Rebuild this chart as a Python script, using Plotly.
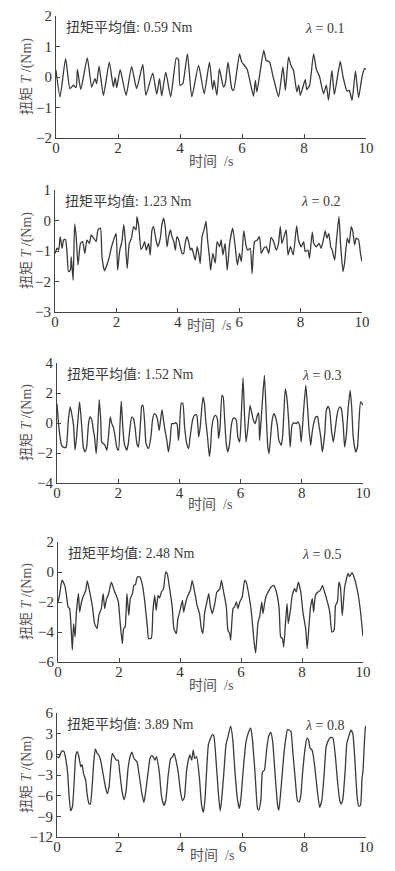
import plotly.graph_objects as go

# ---------------- data ----------------
lambdas = ["0.1", "0.2", "0.3", "0.5", "0.8"]
mean_torque = ["0.59", "1.23", "1.52", "2.48", "3.89"]

t1 = [0.00, 0.13, 0.31, 0.45, 0.56, 0.65, 0.69, 0.80, 1.01, 1.15, 1.26, 1.31, 1.39, 1.53, 1.72, 1.85, 1.91, 1.96,
      2.07, 2.26, 2.44, 2.60, 2.80, 2.90, 3.12, 3.25, 3.34, 3.41, 3.54, 3.70, 3.88, 3.95, 4.00, 4.09, 4.24, 4.38,
      4.60, 4.78, 4.95, 5.05, 5.10, 5.19, 5.27, 5.40, 5.46, 5.55, 5.67, 5.73, 5.92, 5.99, 6.16, 6.37, 6.43, 6.48,
      6.70, 6.78, 6.89, 7.00, 7.04, 7.18, 7.32, 7.40, 7.50, 7.58, 7.66, 7.77, 7.83, 7.88, 8.04, 8.09, 8.18, 8.31,
      8.40, 8.50, 8.63, 8.72, 8.79, 8.90, 8.98, 9.17, 9.26, 9.39, 9.46, 9.55, 9.66, 9.76, 9.87, 9.95, 10.0]
v1 = [0.22, -0.65, 0.60, -0.38, -0.27, -0.35, 0.25, -0.41, 0.63, -0.33, -0.05, -0.22, 0.35, -0.60, 0.49, -0.33, -0.02, -0.35,
      0.24, -0.60, 0.35, -0.38, 0.41, -0.60, 0.13, -0.57, -0.05, -0.62, 0.16, -0.65, 0.63, 0.57, -0.27, -0.22, 0.76, -0.65,
      0.38, -0.55, 0.49, -0.41, -0.11, -0.60, 0.27, -0.33, -0.22, 0.49, -0.38, -0.44, 0.76, 0.49, 0.27, -0.63, -0.11, -0.49,
      0.87, 0.55, 0.49, 0.02, -0.13, -0.65, 0.33, -0.44, 0.65, 0.38, 0.22, -0.49, -0.27, -0.60, -0.09, -0.41, -0.27, 0.76,
      0.24, 0.02, -0.55, -0.27, -0.76, 0.22, -0.57, 0.51, 0.00, -0.46, -0.44, -0.76, 0.19, -0.68, 0.00, 0.27, 0.27]

t2 = [0.00, 0.07, 0.12, 0.17, 0.23, 0.28, 0.34, 0.39, 0.44, 0.50, 0.53, 0.59, 0.64, 0.69, 0.75, 0.83, 0.90, 0.97,
      1.04, 1.12, 1.18, 1.26, 1.34, 1.40, 1.48, 1.53, 1.61, 1.69, 1.77, 1.83, 1.91, 1.99, 2.04, 2.11, 2.18, 2.24,
      2.29, 2.35, 2.42, 2.49, 2.56, 2.64, 2.67, 2.73, 2.80, 2.86, 2.92, 2.97, 3.05, 3.10, 3.16, 3.21, 3.29, 3.35,
      3.43, 3.48, 3.54, 3.59, 3.65, 3.70, 3.76, 3.81, 3.87, 3.92, 3.97, 4.03, 4.08, 4.14, 4.19, 4.24, 4.30, 4.35,
      4.41, 4.46, 4.52, 4.57, 4.63, 4.68, 4.73, 4.79, 4.87, 4.92, 4.97, 5.03, 5.07, 5.14, 5.22, 5.28, 5.36, 5.41,
      5.47, 5.54, 5.61, 5.69, 5.79, 5.87, 5.94, 6.01, 6.07, 6.15, 6.23, 6.28, 6.36, 6.42, 6.50, 6.59, 6.66, 6.72,
      6.80, 6.88, 6.96, 7.04, 7.12, 7.21, 7.28, 7.34, 7.39, 7.46, 7.53, 7.59, 7.67, 7.76, 7.87, 7.93, 8.02, 8.10,
      8.15, 8.24, 8.29, 8.38, 8.43, 8.51, 8.60, 8.67, 8.73, 8.80, 8.86, 8.92, 8.98, 9.03, 9.11, 9.16, 9.25, 9.30,
      9.38, 9.43, 9.52, 9.58, 9.65, 9.70, 9.76, 9.81, 9.89, 9.95, 10.0]
v2 = [-1.08, -0.91, -0.97, -0.53, -0.91, -0.64, -0.62, -1.02, -1.68, -1.63, -1.19, -1.96, -0.11, -0.53, -1.46, -0.75, -0.69, -1.08,
      -0.64, -0.75, -0.47, -0.58, -0.69, -0.31, -0.25, -1.19, -1.65, -1.46, -1.19, -0.91, -0.64, -0.42, -1.63, -0.97, -0.69, -0.14,
      -0.64, -1.57, -0.75, -0.58, -0.20, -0.31, 0.13, -0.20, -0.95, -0.86, -0.69, -0.97, -0.75, -1.13, -0.31, -0.20, -0.64, -0.86,
      -0.58, -0.14, 0.08, -0.20, -0.86, -0.53, -0.31, -0.53, -0.69, -0.97, -0.53, -0.64, -0.86, -1.08, -1.08, -0.75, -0.53, -0.69,
      -0.97, -0.91, -1.13, -1.30, -0.86, -1.08, -1.41, -0.53, -0.25, -0.03, -0.64, -1.19, -1.63, -1.08, -1.40, -0.69, -0.86, -0.64,
      -1.13, -0.75, -1.63, -0.75, -0.25, -0.86, -1.46, -1.08, -1.35, -0.33, -0.86, -0.97, -0.91, -1.74, -0.69, -0.64, -0.53, -1.08,
      -0.91, -0.86, -1.08, -0.55, -0.69, -0.97, -0.75, -0.20, -0.75, -0.53, -0.31, -1.13, -0.86, -1.13, -0.18, -0.64, -0.86, -0.69,
      -1.02, -0.97, -1.24, -0.38, -0.75, -0.86, -0.75, -0.91, -0.69, -0.34, -0.58, -0.42, -0.86, -0.97, -1.30, -0.75, 0.13, -0.75,
      -1.68, -1.41, -0.58, -0.75, -0.20, -0.36, -0.80, -0.58, -0.64, -1.08, -1.35]

t3 = [0.00, 0.05, 0.10, 0.15, 0.24, 0.30, 0.37, 0.43, 0.48, 0.54, 0.59, 0.64, 0.70, 0.74, 0.81, 0.86, 0.92, 0.97,
      1.03, 1.08, 1.14, 1.19, 1.22, 1.28, 1.32, 1.38, 1.43, 1.46, 1.52, 1.57, 1.63, 1.68, 1.74, 1.79, 1.84, 1.90,
      1.95, 2.01, 2.06, 2.10, 2.15, 2.20, 2.28, 2.33, 2.39, 2.44, 2.50, 2.55, 2.61, 2.66, 2.72, 2.77, 2.81, 2.86,
      2.91, 2.99, 3.07, 3.12, 3.18, 3.24, 3.29, 3.34, 3.37, 3.43, 3.48, 3.53, 3.59, 3.64, 3.70, 3.75, 3.81, 3.86,
      3.92, 3.97, 4.00, 4.06, 4.11, 4.17, 4.24, 4.30, 4.35, 4.41, 4.46, 4.52, 4.57, 4.63, 4.68, 4.77, 4.82, 4.86,
      4.92, 4.98, 5.02, 5.06, 5.13, 5.18, 5.24, 5.28, 5.33, 5.39, 5.43, 5.48, 5.53, 5.58, 5.64, 5.69, 5.75, 5.80,
      5.86, 5.91, 5.97, 6.02, 6.08, 6.13, 6.18, 6.24, 6.31, 6.37, 6.42, 6.48, 6.53, 6.59, 6.62, 6.67, 6.73, 6.78,
      6.84, 6.89, 6.93, 6.98, 7.03, 7.09, 7.14, 7.20, 7.25, 7.33, 7.38, 7.46, 7.51, 7.57, 7.62, 7.68, 7.74, 7.82,
      7.87, 7.93, 7.98, 8.06, 8.13, 8.18, 8.23, 8.29, 8.34, 8.40, 8.45, 8.51, 8.56, 8.62, 8.67, 8.75, 8.80, 8.86,
      8.91, 8.97, 9.03, 9.10, 9.16, 9.24, 9.29, 9.35, 9.40, 9.46, 9.51, 9.58, 9.63, 9.68, 9.76, 9.82, 9.87, 9.92,
      9.97, 10.0]
v3 = [1.29, -0.04, -0.93, -1.49, -1.64, -1.60, 0.18, 1.07, 0.62, -0.16, -1.82, -0.93, 0.62, 1.40, -0.27, -1.60, -1.93, -1.60,
      -0.04, 0.40, 0.18, -0.49, -0.82, -2.04, -0.93, 1.56, 0.18, -1.27, -1.38, -1.49, -1.82, -0.93, 0.40, -0.04, -0.27, -0.93,
      -1.60, -1.82, -0.04, 1.44, -0.27, -1.38, -1.82, -1.38, -0.27, 0.40, 0.29, -0.27, -1.38, -1.60, -0.27, 1.11, 1.18, 0.18,
      -1.38, -1.71, -0.93, 0.18, 0.62, 0.51, 0.18, -0.49, -0.04, 0.89, 0.18, -0.49, -1.16, -1.93, -1.16, -0.04, -0.04, 0.00,
      -0.04, -1.16, -0.49, 1.29, 1.33, -0.27, -1.38, -1.71, -0.93, -0.04, 0.40, 0.56, 0.51, -0.93, -0.27, 1.73, 1.29, 0.18,
      -0.93, -2.24, -1.60, -0.27, 0.40, 0.51, 0.29, -1.04, -0.27, 1.84, 1.73, 0.18, -1.38, -1.93, -1.38, -0.27, 0.29, 0.33,
      0.18, -0.93, -1.27, 0.40, 3.02, 0.40, -1.27, -0.27, 1.18, 0.62, 0.18, -0.04, 0.40, 0.67, -1.16, 0.18, 1.96, 3.18,
      0.40, -1.60, -2.04, -0.93, 0.18, 0.62, 0.40, -0.16, -1.16, -1.49, -0.71, 2.29, 1.73, 0.18, -1.60, -0.16, 0.02, -0.04,
      0.07, -0.16, -1.27, 0.84, 2.51, 1.29, -0.27, -1.49, -0.60, 0.07, 0.40, 0.44, -0.16, -0.93, -1.93, -0.71, 0.84, 1.11,
      0.84, -0.49, -1.27, -0.27, 0.62, 1.07, 0.96, -0.04, -1.60, -0.71, 0.84, 2.18, 1.07, -0.93, -1.93, -1.60, 0.18, 1.40,
      1.29, 1.20]

t4 = [0.00, 0.05, 0.13, 0.22, 0.27, 0.33, 0.38, 0.44, 0.47, 0.51, 0.56, 0.60, 0.67, 0.71, 0.77, 0.82, 0.91, 0.96,
      1.04, 1.13, 1.20, 1.28, 1.34, 1.42, 1.48, 1.53, 1.58, 1.66, 1.75, 1.84, 1.91, 1.98, 2.04, 2.11, 2.15, 2.20,
      2.26, 2.32, 2.37, 2.44, 2.49, 2.54, 2.60, 2.68, 2.77, 2.84, 2.93, 2.97, 3.06, 3.11, 3.17, 3.22, 3.28, 3.33,
      3.39, 3.46, 3.53, 3.58, 3.66, 3.75, 3.80, 3.88, 3.93, 3.99, 4.08, 4.12, 4.19, 4.26, 4.34, 4.40, 4.48, 4.56,
      4.64, 4.70, 4.75, 4.81, 4.86, 4.94, 4.99, 5.06, 5.14, 5.21, 5.30, 5.36, 5.43, 5.52, 5.57, 5.63, 5.66, 5.74,
      5.79, 5.85, 5.90, 5.96, 6.04, 6.12, 6.17, 6.26, 6.34, 6.43, 6.48, 6.56, 6.61, 6.68, 6.72, 6.78, 6.83, 6.92,
      6.99, 7.07, 7.16, 7.25, 7.30, 7.36, 7.40, 7.46, 7.51, 7.55, 7.62, 7.68, 7.76, 7.81, 7.88, 7.96, 8.03, 8.12,
      8.17, 8.23, 8.28, 8.34, 8.38, 8.44, 8.52, 8.60, 8.67, 8.74, 8.82, 8.91, 8.98, 9.05, 9.10, 9.16, 9.21, 9.26,
      9.32, 9.40, 9.51, 9.56, 9.64, 9.73, 9.84, 9.91, 10.0]
v4 = [-2.00, -1.56, -0.56, -0.89, -1.44, -2.33, -2.44, -4.11, -5.20, -3.44, -4.33, -2.78, -1.44, -2.67, -2.00, -1.67, -1.22, -0.60,
      -1.33, -2.33, -3.44, -3.78, -2.89, -2.44, -1.44, -2.44, -1.89, -1.44, -0.67, -1.22, -1.56, -2.00, -3.44, -4.78, -3.78, -3.67,
      -1.44, -2.89, -1.78, -1.44, -0.89, -0.84, -0.33, -0.33, -0.89, -1.89, -3.67, -4.44, -4.40, -2.67, -1.56, -2.56, -1.56, -1.73,
      -1.33, -1.11, 0.00, -0.11, -1.11, -2.44, -3.78, -4.11, -3.11, -2.67, -1.89, -2.67, -2.00, -1.56, -1.22, -0.56, -1.33, -2.22,
      -2.78, -3.78, -4.11, -2.67, -2.22, -1.44, -2.22, -2.78, -2.11, -1.33, -1.16, -0.56, -1.33, -2.33, -3.89, -4.11, -4.55, -2.44,
      -2.33, -2.00, -2.44, -2.00, -1.67, -0.56, -0.67, -1.56, -2.67, -4.67, -5.40, -3.33, -3.00, -2.00, -2.78, -2.00, -1.56, -1.22,
      -1.00, -0.89, -1.33, -2.44, -4.33, -4.44, -5.00, -3.33, -2.11, -3.44, -2.56, -1.56, -1.11, -1.33, -0.67, -1.33, -2.67, -3.78,
      -5.11, -3.56, -2.33, -1.78, -2.67, -1.56, -1.33, -1.22, -0.89, -1.33, -1.89, -2.67, -4.00, -3.89, -2.22, -2.00, -0.67, -1.00,
      -2.90, -1.00, -0.10, -0.30, -0.05, -0.50, -1.50, -2.50, -4.30]

t5 = [0.00, 0.06, 0.12, 0.17, 0.23, 0.28, 0.34, 0.39, 0.44, 0.50, 0.55, 0.61, 0.66, 0.71, 0.77, 0.81, 0.86, 0.93,
      0.98, 1.04, 1.08, 1.14, 1.19, 1.24, 1.30, 1.35, 1.41, 1.49, 1.58, 1.63, 1.69, 1.74, 1.79, 1.85, 1.92, 1.98,
      2.03, 2.11, 2.17, 2.23, 2.30, 2.38, 2.43, 2.49, 2.54, 2.59, 2.66, 2.74, 2.81, 2.86, 2.95, 3.01, 3.06, 3.11,
      3.17, 3.22, 3.31, 3.38, 3.46, 3.52, 3.60, 3.68, 3.74, 3.79, 3.85, 3.92, 4.00, 4.06, 4.12, 4.19, 4.25, 4.30,
      4.36, 4.41, 4.46, 4.52, 4.61, 4.68, 4.74, 4.79, 4.84, 4.90, 4.97, 5.04, 5.08, 5.15, 5.22, 5.28, 5.33, 5.41,
      5.47, 5.55, 5.62, 5.69, 5.76, 5.84, 5.90, 5.95, 6.03, 6.11, 6.19, 6.27, 6.32, 6.41, 6.49, 6.53, 6.60, 6.65,
      6.71, 6.79, 6.85, 6.92, 6.98, 7.06, 7.14, 7.18, 7.24, 7.33, 7.39, 7.46, 7.52, 7.57, 7.63, 7.71, 7.78, 7.84,
      7.89, 7.95, 8.03, 8.09, 8.14, 8.19, 8.25, 8.30, 8.36, 8.43, 8.50, 8.57, 8.65, 8.71, 8.79, 8.86, 8.93, 9.01,
      9.08, 9.15, 9.20, 9.25, 9.33, 9.38, 9.46, 9.51, 9.57, 9.63, 9.71, 9.76, 9.82, 9.87, 9.90, 9.95, 9.98, 10.0]
v5 = [-0.30, -0.50, 0.15, 0.50, 0.40, -0.60, -2.50, -5.90, -8.20, -7.60, -4.40, -0.10, 0.40, -0.35, -1.80, -1.50, -2.80, -3.80,
      -6.00, -7.20, -7.20, -4.50, -1.10, 0.80, 0.15, -0.10, -0.85, -2.80, -5.00, -5.70, -4.50, -1.60, 0.15, -0.35, -0.85, -0.85,
      -2.60, -5.50, -6.60, -5.50, -2.05, -0.10, 0.30, -0.60, -0.85, -1.10, -3.00, -5.50, -7.00, -5.75, -2.55, -0.60, -0.20, -0.35,
      -0.85, -0.35, -2.55, -6.00, -7.40, -6.70, -3.00, -0.60, -0.35, 0.15, -0.85, -2.55, -5.50, -6.70, -6.30, -2.55, -0.85, -0.10,
      -0.85, 0.60, -0.60, -0.35, -3.50, -7.40, -8.40, -6.50, -2.55, 1.40, 2.35, 2.90, 2.60, -1.10, -5.50, -8.20, -6.50, -2.05,
      1.40, 2.85, 4.10, 2.10, -2.55, -6.50, -7.85, -6.50, -2.05, 1.60, 3.10, 3.80, 2.35, -2.80, -7.85, -8.10, -6.50, -2.55,
      -2.30, 0.90, 2.60, 3.20, 1.85, -3.05, -7.40, -8.10, -5.50, -0.60, 1.85, 3.60, 3.50, 3.35, 0.40, -3.55, -6.70, -6.90,
      -6.00, -2.55, 0.90, 2.35, 2.10, 0.90, 0.65, -0.35, -2.55, -5.50, -7.70, -6.70, -2.55, 1.10, 2.10, 2.45, 2.35, -0.35,
      -4.00, -6.70, -7.20, -6.50, -2.05, 1.60, 2.85, 3.50, 3.10, -0.10, -6.00, -7.50, -7.40, -3.55, -2.55, 1.85, 4.10, 3.60]

x_ticks = [0, 2, 4, 6, 8, 10]
y_ranges = [[-2, 2], [-3, 1], [-4, 4], [-6, 2], [-12, 6]]
y_dticks = [1, 1, 2, 2, 3]

series_t = [t1, t2, t3, t4, t5]
series_v = [v1, v2, v3, v4, v5]

# ---------------- layout geometry (page pixels) ----------------
OFF = 8                      # default body margin of the html page
W, H = 395 - 2 * OFF, 871 - 2 * OFF
panels_px = [  # left, right, top, bottom of each plot area (page px)
    (56, 366, 16, 138),
    (55, 362, 190, 312),
    (57, 363, 363, 483),
    (58, 363, 542, 662),
    (57, 366, 713, 837),
]
xtitle_px = [162, 325, 505, 685, 855]


def px_x(p):
    return (p - OFF) / W


def px_y(p):
    return 1 - (p - OFF) / H


serif = "Liberation Serif, Noto Sans CJK SC, serif"
txt_col = "#333333"

fig = go.Figure()
annotations = []
layout_axes = {}
for i in range(5):
    l, r, tp, bt = panels_px[i]
    xs = "" if i == 0 else str(i + 1)
    fig.add_trace(go.Scatter(
        x=series_t[i], y=series_v[i], mode="lines",
        line=dict(color="#3a3a3a", width=1.3, shape="spline", smoothing=0.5),
        xaxis="x" + xs, yaxis="y" + xs, showlegend=False, hoverinfo="skip"))
    common = dict(showline=True, linecolor="#444444", linewidth=1, mirror=False,
                  ticks="inside", ticklen=4, tickcolor="#444444", tickwidth=1,
                  showgrid=False, zeroline=False, automargin=False,
                  tickfont=dict(family=serif, size=15, color=txt_col))
    layout_axes["xaxis" + xs] = dict(
        domain=[px_x(l), px_x(r)], range=[0, 10], tickvals=x_ticks,
        anchor="y" + xs, ticklabelstandoff=-4, **common)
    layout_axes["yaxis" + xs] = dict(
        domain=[px_y(bt), px_y(tp)], range=y_ranges[i], dtick=y_dticks[i],
        tick0=0, anchor="x" + xs, ticklabelstandoff=0, **common)
    ph = bt - tp
    annotations.append(dict(
        text="扭矩平均值: " + mean_torque[i] + " Nm", xref="paper", yref="paper",
        x=px_x(l + 8), y=px_y(tp + 11), xanchor="left", yanchor="middle",
        showarrow=False, font=dict(family=serif, size=14, color="#3a3a3a")))
    annotations.append(dict(
        text="<i>λ</i> = " + lambdas[i], xref="paper", yref="paper",
        x=px_x(r - 20), y=px_y(tp + 12), xanchor="right", yanchor="middle",
        showarrow=False, font=dict(family=serif, size=14, color="#3a3a3a")))
    annotations.append(dict(
        text="扭矩 <i>T</i> /(Nm)", xref="paper", yref="paper",
        x=px_x(27), y=px_y(tp + ph / 2), xanchor="center", yanchor="middle",
        textangle=-90, showarrow=False, font=dict(family=serif, size=14, color="#555555")))
    annotations.append(dict(
        text="时间  /s", xref="paper", yref="paper",
        x=px_x((l + r) / 2), y=px_y(xtitle_px[i]), xanchor="center", yanchor="middle",
        showarrow=False, font=dict(family=serif, size=14, color="#555555")))

fig.update_layout(
    width=W, height=H, margin=dict(l=0, r=0, t=0, b=0),
    paper_bgcolor="white", plot_bgcolor="white",
    annotations=annotations, **layout_axes)

fig.write_html("out.html")
